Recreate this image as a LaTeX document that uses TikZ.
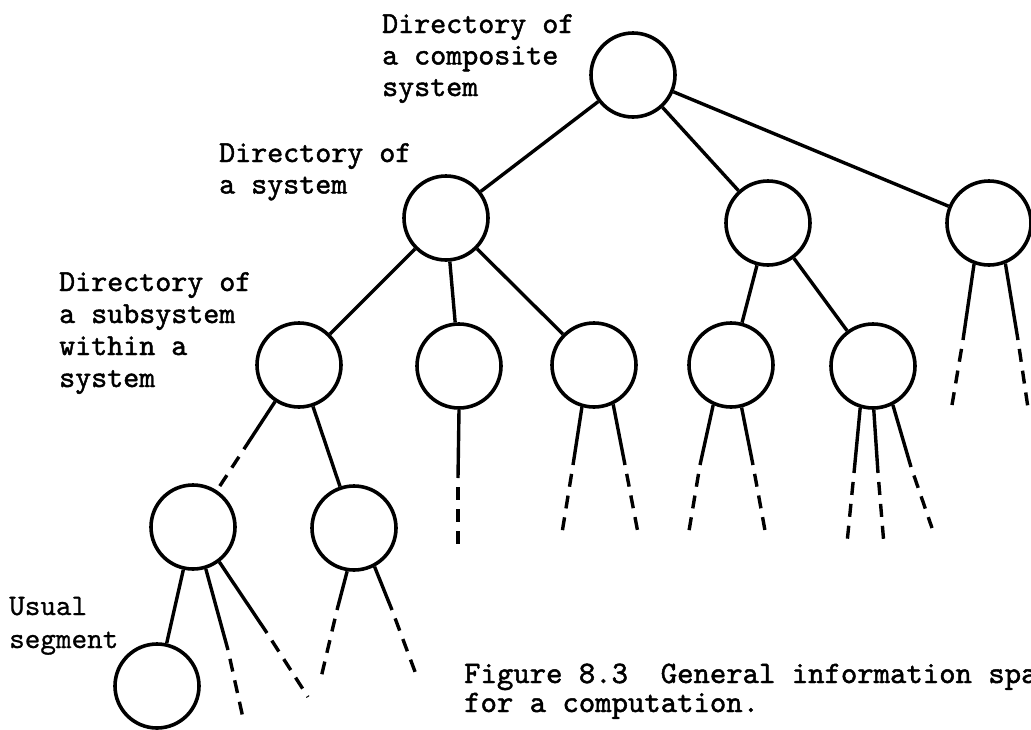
\documentclass[tikz,border=0pt]{standalone}
\usepackage{fontspec}
\usetikzlibrary{calc}
% typewriter faces for the labels
\newfontfamily\twfont{lmmono10-regular.otf}[FakeBold=1.5]
\newfontfamily\twlight{lmmono10-regular.otf}[FakeBold=0.8]
\begin{document}
\begin{tikzpicture}[x=1pt,y=-1pt,
  dir/.style={draw, circle, line width=3.6pt, minimum size=84pt, inner sep=0pt},
  link/.style={line width=3.4pt},
  tail/.style={line width=3.4pt, dash pattern=on 13pt off 9pt, dash phase=13pt},
  lbl/.style={anchor=base west, inner sep=0pt, font=\twfont\fontsize{30.5}{32}\selectfont},
  lbllight/.style={anchor=base west, inner sep=0pt, font=\twlight\fontsize{29.7}{32}\selectfont},
  captxt/.style={anchor=base west, inner sep=0pt, font=\twfont\fontsize{31.2}{28}\selectfont}]
\path[use as bounding box] (0,0) rectangle (1031,729);
\clip (0,0) rectangle (1031,729);

% directories
\node[dir] (R)   at (633,75)  {};
\node[dir] (A)   at (446,218) {};
\node[dir] (B)   at (768,223) {};
\node[dir] (C)   at (989,223) {};
\node[dir] (A1)  at (299,365) {};
\node[dir] (A2)  at (459,366) {};
\node[dir] (A3)  at (594,365) {};
\node[dir] (B1)  at (731,365) {};
\node[dir] (B2)  at (873,366) {};
\node[dir] (A1a) at (193,527) {};
\node[dir] (A1b) at (354,528) {};
\node[dir] (U)   at (157,686) {};

% links between directories
\draw[link] (R) -- (A);
\draw[link] (R) -- (B);
\draw[link] (R) -- (C);
\draw[link] (A) -- (A1);
\draw[link] (A) -- (A2);
\draw[link] (A) -- (A3);
\draw[link] (B) -- (B1);
\draw[link] (B) -- (B2);
\draw[link] (A1) -- (A1b);
\draw[link] (A1a) -- (U);
\coordinate (A1m) at ($(A1)!0.52!(A1a)$);
\draw[link] (A1) -- (A1m);
\draw[tail] (A1m) -- (A1a);

% open branches: solid start, dashed continuation
\coordinate (a1a2s) at (228,650); \coordinate (a1a2e) at (243,718);
\coordinate (a1a3s) at (267,633); \coordinate (a1a3e) at (308,697);
\coordinate (a1b1s) at (337,610); \coordinate (a1b1e) at (320,682);
\coordinate (a1b2s) at (392,610); \coordinate (a1b2e) at (417,677);
\coordinate (a2s)   at (458,478); \coordinate (a2e)   at (458,545);
\coordinate (a3ls)  at (573,465); \coordinate (a3le)  at (562,533);
\coordinate (a3rs)  at (625,465); \coordinate (a3re)  at (638,533);
\coordinate (b1ls)  at (700,465); \coordinate (b1le)  at (688,537);
\coordinate (b1rs)  at (753,465); \coordinate (b1re)  at (766,536);
\coordinate (b2ls)  at (854,473); \coordinate (b2le)  at (847,543);
\coordinate (b2ms)  at (878,473); \coordinate (b2me)  at (884,545);
\coordinate (b2rs)  at (911,467); \coordinate (b2re)  at (932,528);
\coordinate (cls)   at (963,340); \coordinate (cle)   at (952,405);
\coordinate (crs)   at (1018,340); \coordinate (cre)  at (1028,408);

\draw[link] (A1a.287) -- (a1a2s); \draw[tail] (a1a2s) -- (a1a2e);
\draw[link] (A1a.307) -- (a1a3s); \draw[tail] (a1a3s) -- (a1a3e);
\draw[link] (A1b.261) -- (a1b1s); \draw[tail] (a1b1s) -- (a1b1e);
\draw[link] (A1b.298) -- (a1b2s); \draw[tail] (a1b2s) -- (a1b2e);
\draw[link] (A2.270)  -- (a2s);   \draw[tail] (a2s)   -- (a2e);
\draw[link] (A3.254)  -- (a3ls);  \draw[tail] (a3ls)  -- (a3le);
\draw[link] (A3.296)  -- (a3rs);  \draw[tail] (a3rs)  -- (a3re);
\draw[link] (B1.246)  -- (b1ls);  \draw[tail] (b1ls)  -- (b1le);
\draw[link] (B1.284)  -- (b1rs);  \draw[tail] (b1rs)  -- (b1re);
\draw[link] (B2.253)  -- (b2ls);  \draw[tail] (b2ls)  -- (b2le);
\draw[link] (B2.271)  -- (b2ms);  \draw[tail] (b2ms)  -- (b2me);
\draw[link] (B2.297)  -- (b2rs);  \draw[tail] (b2rs)  -- (b2re);
\draw[link] (C.250)   -- (cls);   \draw[tail] (cls)   -- (cle);
\draw[link] (C.292)   -- (crs);   \draw[tail] (crs)   -- (cre);

% labels
\node[lbl] (lr1) at (382,33)  {Directory of};
\node[lbl] (lr2) at (382,64.5) {a composite};
\node[lbl] (lr3) at (382,96)  {system};
\node[lbl] (la1) at (219,162) {Directory of};
\node[lbl] (la2) at (219,193.5) {a system};
\node[lbl] (ls1) at (59,291) {Directory of};
\node[lbl] (ls2) at (59,323) {a subsystem};
\node[lbl] (ls3) at (59,355) {within a};
\node[lbl] (ls4) at (59,387) {system};
\node[lbllight] (lu1) at (9,615) {Usual};
\node[lbllight] (lu2) at (9,648) {segment};
\node[captxt] (cp1) at (464,683) {Figure 8.3\ \ General information spa};
\node[captxt] (cp2) at (464,712) {for a computation.};
\end{tikzpicture}
\end{document}
